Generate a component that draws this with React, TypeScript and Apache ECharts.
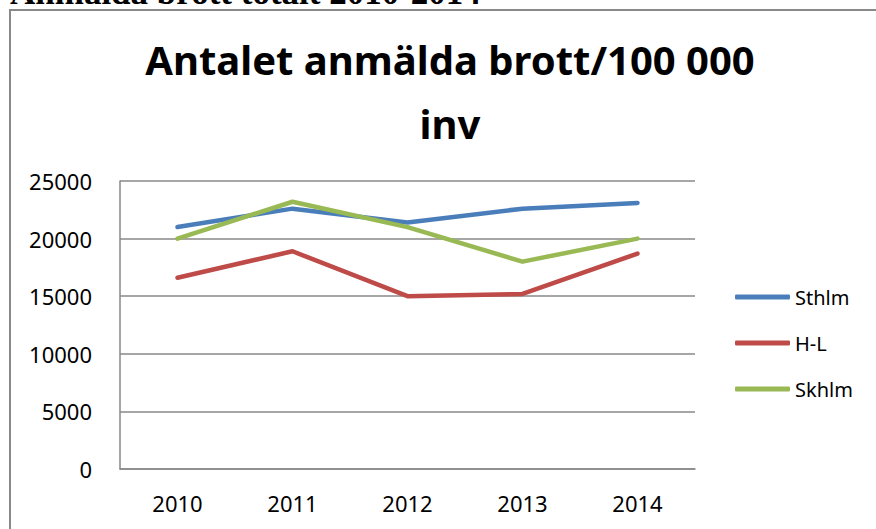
import React, { useEffect, useRef } from "react";
import * as echarts from "echarts";

const years = ["2010", "2011", "2012", "2013", "2014"];
const sthlm = [21000, 22600, 21400, 22600, 23100];
const hl = [16600, 18900, 15000, 15200, 18700];
const skhlm = [20000, 23200, 21000, 18000, 20000];
const seriesNames = ["Sthlm", "H-L", "Skhlm"];
const seriesColors = ["#4A7EBB", "#BE4B48", "#98B954"];

export default function App() {
  const ref = useRef<HTMLDivElement>(null);
  useEffect(() => {
    const chart = echarts.init(ref.current!, null, { renderer: "svg" });
    const font = "Noto Sans";
    const dataSets = [sthlm, hl, skhlm];
    chart.setOption({
      animation: false,
      backgroundColor: "#ffffff",
      title: {
        text: "Antalet anmälda brott/100 000\ninv",
        left: 445,
        top: 22,
        textAlign: "center",
        textStyle: {
          fontFamily: font,
          fontWeight: "bold",
          fontSize: 40,
          lineHeight: 64,
          color: "#000",
        },
      },
      graphic: [
        {
          type: "rect",
          shape: { x: 10, y: 10, width: 880, height: 600 },
          style: { fill: "none", stroke: "#898989", lineWidth: 2 },
          silent: true,
        },
        {
          type: "text",
          x: 10,
          y: 10,
          style: {
            text: "Anmälda brott totalt 2010-2014",
            font: "bold 35px 'Liberation Serif'",
            fill: "#000",
            textVerticalAlign: "bottom",
          },
        },
      ],
      legend: {
        orient: "vertical",
        left: 730,
        top: 282,
        itemWidth: 55,
        itemHeight: 5,
        itemGap: 26,
        icon: "roundRect",
        textStyle: { fontFamily: font, fontSize: 20, color: "#000" },
        data: seriesNames,
      },
      grid: { left: 120, right: 181, top: 181, bottom: 60, containLabel: false },
      xAxis: {
        type: "category",
        data: years,
        boundaryGap: true,
        axisLine: { show: true, lineStyle: { color: "#898989", width: 1.5 } },
        axisTick: { show: false },
        axisLabel: { fontFamily: font, fontSize: 22, color: "#000", margin: 23 },
      },
      yAxis: {
        type: "value",
        min: 0,
        max: 25000,
        interval: 5000,
        axisLine: { show: true, lineStyle: { color: "#898989", width: 1.5 } },
        axisTick: { show: false },
        axisLabel: {
          fontFamily: font,
          fontSize: 22,
          color: "#000",
          margin: 28,
          formatter: (v: number) => String(v),
        },
        splitLine: { show: true, lineStyle: { color: "#898989", width: 1.5 } },
      },
      series: seriesNames.map((name, i) => ({
        name,
        type: "line",
        data: dataSets[i],
        showSymbol: false,
        symbol: "none",
        color: seriesColors[i],
        lineStyle: { width: 4.5, color: seriesColors[i], cap: "round", join: "round" },
      })),
    });
    return () => chart.dispose();
  }, []);
  return (
    <div
      ref={ref}
      style={{ position: "fixed", left: 0, top: 0, width: 876, height: 529 }}
    />
  );
}
